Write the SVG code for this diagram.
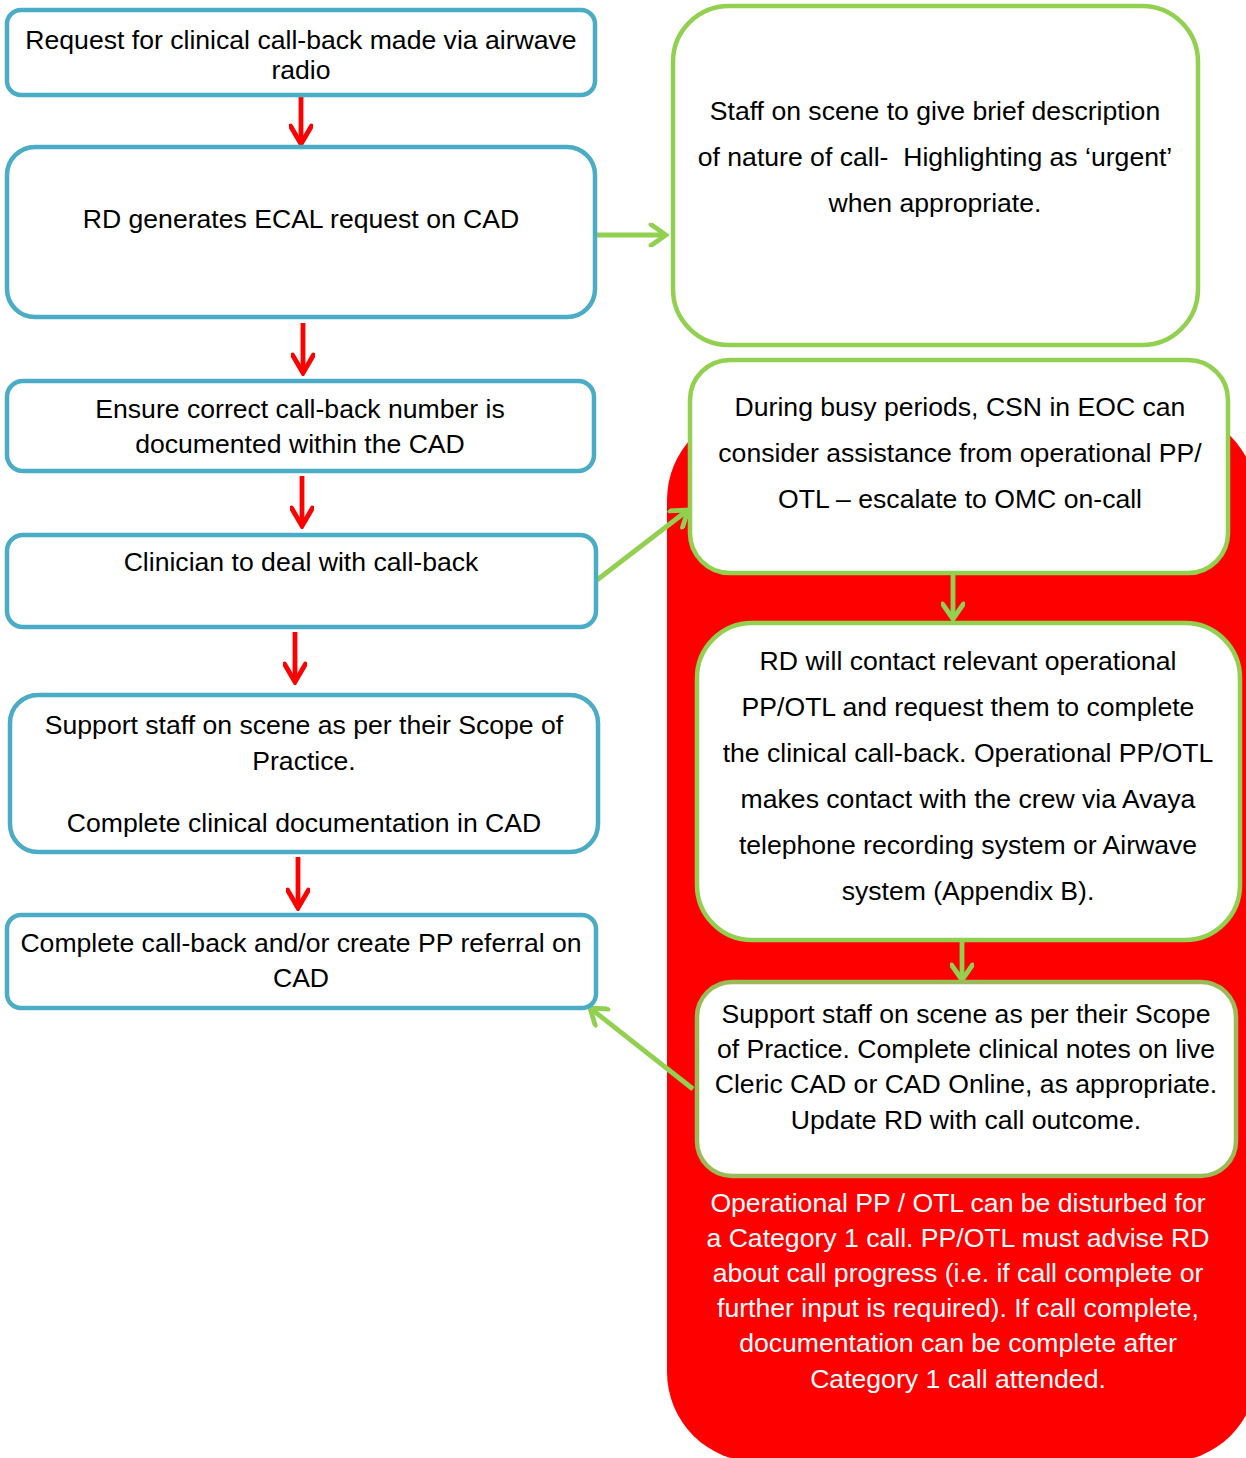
<svg xmlns="http://www.w3.org/2000/svg" width="1246" height="1458" viewBox="0 0 1246 1458">
<defs>
<style>
text{font-family:"Liberation Sans",Arial,sans-serif;font-size:26.6px;fill:#000;text-anchor:middle}
.blue{fill:#fff;stroke:#4BACC6;stroke-width:4.5}
.green{fill:#fff;stroke:#92D050;stroke-width:4.5}
.olive{fill:#fff;stroke:#9BBB59;stroke-width:4.5}
.ra{fill:none;stroke:#FF0000;stroke-width:4.8;marker-end:url(#mr)}
.ga{fill:none;stroke:#92D050;stroke-width:4.8;marker-end:url(#mg)}
.wt{fill:#fff}
</style>
<marker id="mr" viewBox="0 0 24 24" refX="21" refY="12" markerWidth="24" markerHeight="24" markerUnits="userSpaceOnUse" orient="auto">
<path d="M3,1.5 L21,12 L3,22.5" fill="none" stroke="#FF0000" stroke-width="4.8" stroke-linecap="round"/>
</marker>
<marker id="mg" viewBox="0 0 24 24" refX="21" refY="12" markerWidth="24" markerHeight="24" markerUnits="userSpaceOnUse" orient="auto">
<path d="M6,1.5 L21,12 L6,22.5" fill="none" stroke="#92D050" stroke-width="4.8" stroke-linecap="round"/>
</marker>
</defs>
<rect width="1246" height="1458" fill="#fff"/>
<g id="red-region">
<rect x="667" y="410" width="590" height="1052" rx="90" ry="90" fill="#FF0000"/>
<text class="wt" x="958" y="1212">Operational PP / OTL can be disturbed for</text>
<text class="wt" x="958" y="1247">a Category 1 call. PP/OTL must advise RD</text>
<text class="wt" x="958" y="1282">about call progress (i.e. if call complete or</text>
<text class="wt" x="958" y="1317">further input is required). If call complete,</text>
<text class="wt" x="958" y="1352">documentation can be complete after</text>
<text class="wt" x="958" y="1388">Category 1 call attended.</text>
</g>
<g id="connectors">
<path class="ra" d="M301,97 V144"/>
<path class="ra" d="M303,323 V373"/>
<path class="ra" d="M302,476 V526"/>
<path class="ra" d="M295,632 V682"/>
<path class="ra" d="M298,857 V908"/>
<path class="ga" d="M597,235 H666"/>
<path class="ga" d="M597,580 L688,510"/>
<path class="ga" d="M953,575 V619"/>
<path class="ga" d="M962,942 V980"/>
<path class="ga" d="M693,1089 L590,1008"/>
</g>
<g id="n1">
<rect class="blue" x="7" y="10" width="588" height="85" rx="14"/>
<text x="301" y="49">Request for clinical call-back made via airwave</text>
<text x="301" y="79">radio</text>
</g>
<g id="n2">
<rect class="blue" x="7" y="147" width="588" height="170" rx="28"/>
<text x="301" y="228">RD generates ECAL request on CAD</text>
</g>
<g id="n3">
<rect class="blue" x="7" y="381" width="587" height="90" rx="16"/>
<text x="300" y="418">Ensure correct call-back number is</text>
<text x="300" y="453">documented within the CAD</text>
</g>
<g id="n4">
<rect class="blue" x="7" y="535" width="589" height="92" rx="16"/>
<text x="301" y="571">Clinician to deal with call-back</text>
</g>
<g id="n5">
<rect class="blue" x="10" y="695" width="588" height="157" rx="28"/>
<text x="304" y="734">Support staff on scene as per their Scope of</text>
<text x="304" y="770">Practice.</text>
<text x="304" y="832">Complete clinical documentation in CAD</text>
</g>
<g id="n6">
<rect class="blue" x="7" y="915" width="589" height="93" rx="14"/>
<text x="301" y="952">Complete call-back and/or create PP referral on</text>
<text x="301" y="987">CAD</text>
</g>
<g id="n7">
<rect class="green" x="673" y="6" width="525" height="339" rx="56"/>
<text x="935" y="120">Staff on scene to give brief description</text>
<text x="935" y="166">of nature of call- &#160;Highlighting as ‘urgent’</text>
<text x="935" y="212">when appropriate.</text>
</g>
<g id="n8">
<rect class="green" x="690" y="360" width="538" height="213" rx="40"/>
<text x="960" y="416">During busy periods, CSN in EOC can</text>
<text x="960" y="462">consider assistance from operational PP/</text>
<text x="960" y="508">OTL – escalate to OMC on-call</text>
</g>
<g id="n9">
<rect class="green" x="697" y="623" width="543" height="317" rx="55"/>
<text x="968" y="670">RD will contact relevant operational</text>
<text x="968" y="716">PP/OTL and request them to complete</text>
<text x="968" y="762">the clinical call-back. Operational PP/OTL</text>
<text x="968" y="808">makes contact with the crew via Avaya</text>
<text x="968" y="854">telephone recording system or Airwave</text>
<text x="968" y="900">system (Appendix B).</text>
</g>
<g id="n10">
<rect class="olive" x="697" y="982" width="539" height="194" rx="35"/>
<text x="966" y="1023">Support staff on scene as per their Scope</text>
<text x="966" y="1058">of Practice. Complete clinical notes on live</text>
<text x="966" y="1093">Cleric CAD or CAD Online, as appropriate.</text>
<text x="966" y="1129">Update RD with call outcome.</text>
</g>
</svg>
